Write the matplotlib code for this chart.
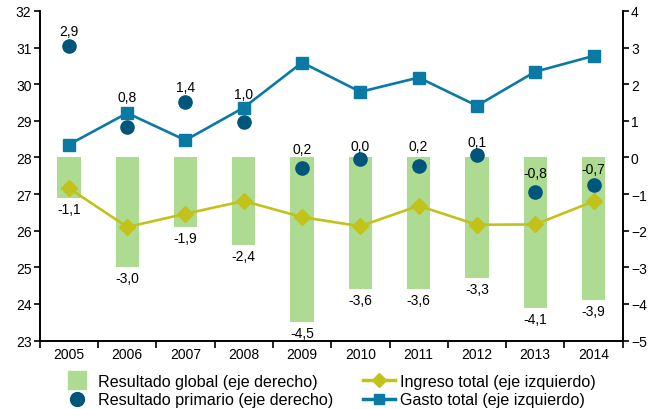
import numpy as np
import matplotlib
matplotlib.use("Agg")
import matplotlib.pyplot as plt
from matplotlib.lines import Line2D

plt.rcParams["font.family"] = ["Liberation Sans", "DejaVu Sans"]

# Data
years = ["2005", "2006", "2007", "2008", "2009", "2010", "2011", "2012", "2013", "2014"]
resultado_global = [-1.1, -3.0, -1.9, -2.4, -4.5, -3.6, -3.6, -3.3, -4.1, -3.9]
resultado_primario = [3.04, 0.82, 1.5, 0.98, -0.30, -0.04, -0.24, 0.07, -0.95, -0.75]
primario_labels = ["2,9", "0,8", "1,4", "1,0", "0,2", "0,0", "0,2", "0,1", "-0,8", "-0,7"]
ingreso_total = [27.16, 26.10, 26.46, 26.81, 26.37, 26.12, 26.68, 26.16, 26.17, 26.80]
gasto_total = [28.35, 29.21, 28.47, 29.36, 30.59, 29.79, 30.18, 29.41, 30.34, 30.77]

# pixel offsets of primary labels above the dot
primario_offsets = [15, 30, 15, 28, 19, 13, 20, 13, 19, 16]

c_bar = "#acdb91"
c_dot = "#00557a"
c_gasto = "#0a7aa5"
c_ingreso = "#c2c21a"

fig = plt.figure(figsize=(6.52, 4.10), dpi=100)
ax = fig.add_axes([0.061, 0.167, 0.894, 0.804])
ax2 = ax.twinx()
ax.set_zorder(ax2.get_zorder() + 1)
ax.patch.set_visible(False)

x = np.arange(len(years))

# right axis: bars and dots
ax2.bar(x, resultado_global, width=0.4, color=c_bar, zorder=1)
ax2.plot(x, resultado_primario, "o", color=c_dot, ms=9.5, zorder=3)
for xi, v in zip(x, resultado_global):
    ax2.annotate(f"{v:.1f}".replace(".", ","), (xi, v), xytext=(0, -3),
                 textcoords="offset points", ha="center", va="top", fontsize=10)
for xi, v, lab, off in zip(x, resultado_primario, primario_labels, primario_offsets):
    ax2.annotate(lab, (xi, v), xytext=(0, off * 0.72), textcoords="offset points",
                 ha="center", va="center", fontsize=10)

# left axis: lines
ax.plot(x, ingreso_total, "-D", color=c_ingreso, lw=1.9, ms=8, zorder=3)
ax.plot(x, gasto_total, "-s", color=c_gasto, lw=1.9, ms=8, zorder=3)

ax.set_ylim(23, 32)
ax2.set_ylim(-5, 4)
ax.set_yticks(range(23, 33))
ax2.set_yticks(range(-5, 5))
ax.set_xlim(-0.5, 9.5)
ax.set_xticks(np.arange(-0.5, 10, 1))
ax.set_xticklabels([])
ax.set_xticks(x, minor=True)
ax.set_xticklabels(years, minor=True)
ax.tick_params(axis="x", which="minor", length=0, labelsize=10, pad=5)
ax.tick_params(axis="x", which="major", length=5, width=1.2, direction="out")
ax.tick_params(axis="y", labelsize=10, length=4, width=1.2, pad=2)
ax2.tick_params(axis="y", labelsize=10, length=4, width=1.2, pad=2)

for a in (ax, ax2):
    a.spines["top"].set_visible(False)
    for s in ("left", "right", "bottom"):
        a.spines[s].set_linewidth(1.2)

handles = [
    Line2D([], [], ls="none", marker="s", ms=13, color=c_bar),
    Line2D([], [], ls="none", marker="o", ms=10, color=c_dot),
    Line2D([], [], ls="-", marker="D", ms=7, lw=2.5, color=c_ingreso),
    Line2D([], [], ls="-", marker="s", ms=7, lw=2.5, color=c_gasto),
]
labels = ["Resultado global (eje derecho)", "Resultado primario (eje derecho)",
          "Ingreso total (eje izquierdo)", "Gasto total (eje izquierdo)"]
fig.legend(handles, labels, ncol=2, loc="upper left", bbox_to_anchor=(0.094, 0.086),
           frameon=False, fontsize=11.6, handlelength=2.0, handletextpad=0.3,
           columnspacing=1.8, labelspacing=0.22, borderaxespad=0, borderpad=0)

fig.savefig("out.png", dpi=100)
